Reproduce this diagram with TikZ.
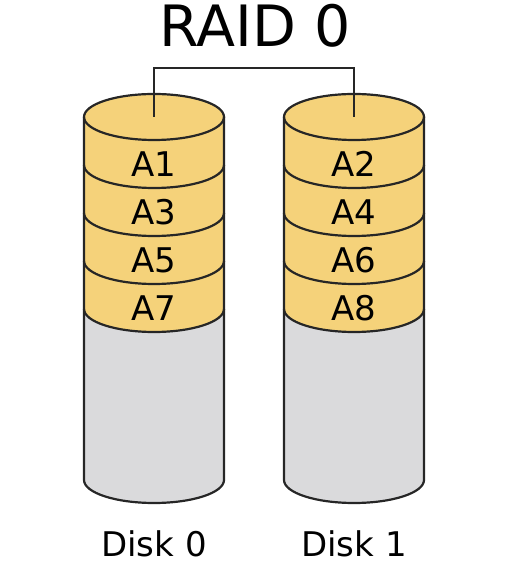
\documentclass[tikz,border=0pt]{standalone}
\usepackage{fontspec}
\setmainfont{DejaVu Sans}
\begin{document}
\begin{tikzpicture}[x=1pt,y=1pt,
  outline/.style={draw=black!85, line width=2.2pt, line join=round},
  stripefill/.style={fill=diskyellow},
  emptyfill/.style={fill=diskgray},
  blocklabel/.style={font=\fontsize{34}{34}\selectfont, inner sep=0pt, anchor=center},
  disklabel/.style={font=\fontsize{34}{34}\selectfont, inner sep=0pt, anchor=center},
  titlelabel/.style={font=\fontsize{57}{57}\selectfont, inner sep=0pt, anchor=center},
  link/.style={draw=black!85, line width=2.2pt}]
\definecolor{diskyellow}{RGB}{245,210,122}
\definecolor{diskgray}{RGB}{218,218,220}
\useasboundingbox (0,0) rectangle (518,567);

% one cylinder: #1 = centre x, #2 = name prefix
\newcommand{\raiddisk}[2]{%
  % empty lower part
  \path[emptyfill] (#1-70,258) -- (#1-70,87) arc (180:360:70 and 23)
    -- (#1+70,258) arc (360:180:70 and 23) -- cycle;
  % striped upper part
  \path[stripefill] (#1-70,450) -- (#1-70,258) arc (180:360:70 and 23)
    -- (#1+70,450) arc (0:180:70 and 23) -- cycle;
  % outline
  \draw[outline] (#1-70,450) -- (#1-70,87) arc (180:360:70 and 23) -- (#1+70,450);
  \draw[outline] (#1,450) ellipse (70 and 23);
  \foreach \yy in {402,354,306,258}
    \draw[outline] (#1-70,\yy) arc (180:360:70 and 23);
  \coordinate (#2top) at (#1,450);
}

\raiddisk{154}{dzero}
\raiddisk{354}{done}

\node[titlelabel] (title) at (255,541) {RAID 0};

\node[blocklabel] (a1) at (154,403) {A1};
\node[blocklabel] (a3) at (154,355) {A3};
\node[blocklabel] (a5) at (154,307) {A5};
\node[blocklabel] (a7) at (154,259) {A7};
\node[blocklabel] (a2) at (354,403) {A2};
\node[blocklabel] (a4) at (354,355) {A4};
\node[blocklabel] (a6) at (354,307) {A6};
\node[blocklabel] (a8) at (354,259) {A8};

\node[disklabel] (disk0) at (154,23) {Disk 0};
\node[disklabel] (disk1) at (354,23) {Disk 1};

% array controller link
\draw[link] (dzerotop) -- (154,499) -| (donetop);
\end{tikzpicture}
\end{document}
